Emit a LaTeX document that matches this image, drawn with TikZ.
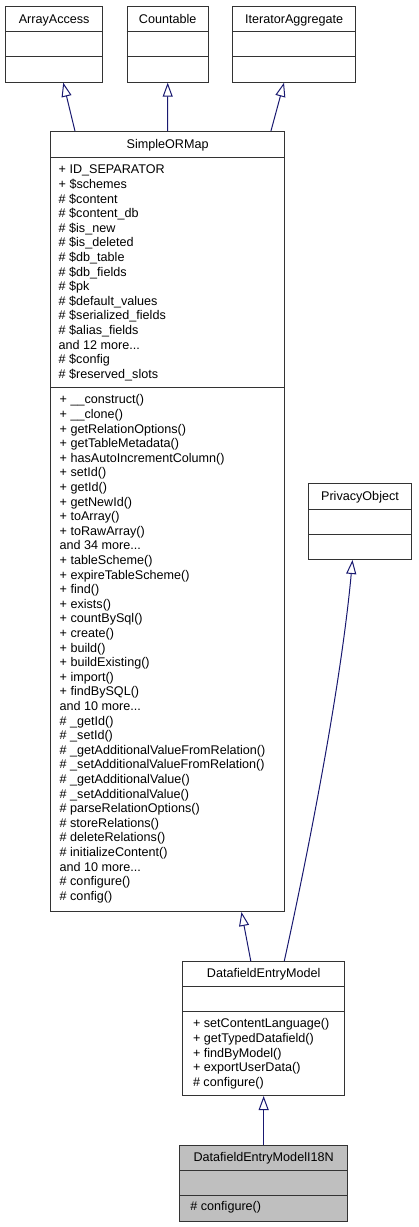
\documentclass[tikz,border=0pt]{standalone}
\usepackage{fontspec}
\setmainfont{Liberation Sans}
\usetikzlibrary{arrows.meta}
\definecolor{edgeBlue}{HTML}{191970}
\definecolor{currentGray}{HTML}{BFBFBF}
\newcommand{\moredots}{...}
\tikzset{
    classbox/.style={draw=black!80, line width=1pt, inner sep=0pt, anchor=north west},
    ctitle/.style={anchor=base, inner sep=0pt, font=\fontsize{12.6}{14.6}\selectfont},
    member/.style={anchor=base west, inner sep=0pt, font=\fontsize{12.6}{14.6}\selectfont},
    divider/.style={draw=black!80, line width=1pt},
    inherit/.style={draw=edgeBlue, line width=1pt, -{Triangle[open, length=14pt, width=10pt]}}
}
\begin{document}
\begin{tikzpicture}[x=1pt, y=-1pt]
    \useasboundingbox (0,0) rectangle (418,1227);
    \node[classbox, minimum width=97.3pt, minimum height=75.7pt] (aa) at (5,6) {};
    \node[classbox, minimum width=81pt, minimum height=75.7pt] (cnt) at (126.7,6) {};
    \node[classbox, minimum width=122.7pt, minimum height=75.7pt] (ia) at (232.3,6) {};
    \node[classbox, minimum width=234.3pt, minimum height=780pt] (sorm) at (50,131) {};
    \node[classbox, minimum width=103pt, minimum height=76pt] (po) at (308,483) {};
    \node[classbox, minimum width=162.3pt, minimum height=134pt] (dem) at (182,961) {};
    \node[classbox, fill=currentGray, minimum width=168.3pt, minimum height=76pt] (i18n) at (179,1144.5) {};

    \foreach \b in {aa,cnt,ia} {
        \draw[divider] (\b.west |- 0,31.5) -- (\b.east |- 0,31.5);
        \draw[divider] (\b.west |- 0,56.7) -- (\b.east |- 0,56.7);
    }
    \draw[divider] (sorm.west |- 0,157) -- (sorm.east |- 0,157);
    \draw[divider] (sorm.west |- 0,387) -- (sorm.east |- 0,387);
    \draw[divider] (po.west |- 0,509) -- (po.east |- 0,509);
    \draw[divider] (po.west |- 0,534) -- (po.east |- 0,534);
    \draw[divider] (dem.west |- 0,986) -- (dem.east |- 0,986);
    \draw[divider] (dem.west |- 0,1011) -- (dem.east |- 0,1011);
    \draw[divider] (i18n.west |- 0,1170) -- (i18n.east |- 0,1170);
    \draw[divider] (i18n.west |- 0,1195) -- (i18n.east |- 0,1195);

    \node[ctitle] (aa-t) at (aa.north |- 0,23.1) {ArrayAccess};
    \node[ctitle] (cnt-t) at (cnt.north |- 0,23.1) {Countable};
    \node[ctitle] (ia-t) at (ia.north |- 0,23.1) {IteratorAggregate};
    \node[ctitle] (sorm-t) at (sorm.north |- 0,148.4) {SimpleORMap};
    \node[ctitle] (po-t) at (po.north |- 0,500.4) {PrivacyObject};
    \node[ctitle] (dem-t) at (dem.north |- 0,977.9) {DatafieldEntryModel};
    \node[ctitle] (i18n-t) at (i18n.north |- 0,1161.6) {DatafieldEntryModelI18N};

    \foreach \a [count=\k from 0] in {+ ID\_SEPARATOR, + \$schemes, \# \$content, \# \$content\_db,
        \# \$is\_new, \# \$is\_deleted, \# \$db\_table, \# \$db\_fields, \# \$pk,
        \# \$default\_values, \# \$serialized\_fields, \# \$alias\_fields, and 12 more\moredots,
        \# \$config, \# \$reserved\_slots}
        \node[member] (sorm-a\k) at (58.5,{173.8+14.6*\k}) {\a};
    \foreach \m [count=\k from 0] in {+ \_\_construct(), + \_\_clone(), + getRelationOptions(),
        + getTableMetadata(), + hasAutoIncrementColumn(), + setId(), + getId(), + getNewId(),
        + toArray(), + toRawArray(), and 34 more\moredots, + tableScheme(), + expireTableScheme(),
        + find(), + exists(), + countBySql(), + create(), + build(), + buildExisting(),
        + import(), + findBySQL(), and 10 more\moredots, \# \_getId(), \# \_setId(),
        \# \_getAdditionalValueFromRelation(), \# \_setAdditionalValueFromRelation(),
        \# \_getAdditionalValue(), \# \_setAdditionalValue(), \# parseRelationOptions(),
        \# storeRelations(), \# deleteRelations(), \# initializeContent(), and 10 more\moredots,
        \# configure(), \# config()}
        \node[member] (sorm-m\k) at (59.5,{403.8+14.6*\k}) {\m};
    \foreach \m [count=\k from 0] in {+ setContentLanguage(), + getTypedDatafield(),
        + findByModel(), + exportUserData(), \# configure()}
        \node[member] (dem-m\k) at (192.8,{1027.8+14.6*\k}) {\m};
    \node[member] (i18n-m0) at (190.2,1210.2) {\# configure()};

    \draw[inherit] (sorm) -- (aa);
    \draw[inherit] (sorm) -- (cnt);
    \draw[inherit] (sorm) -- (ia);
    \draw[inherit] (dem) -- (sorm);
    \draw[inherit] (dem.73) .. controls +(22,-100) and +(-12,130) .. (po.-101);
    \draw[inherit] (i18n) -- (dem);
\end{tikzpicture}
\end{document}
